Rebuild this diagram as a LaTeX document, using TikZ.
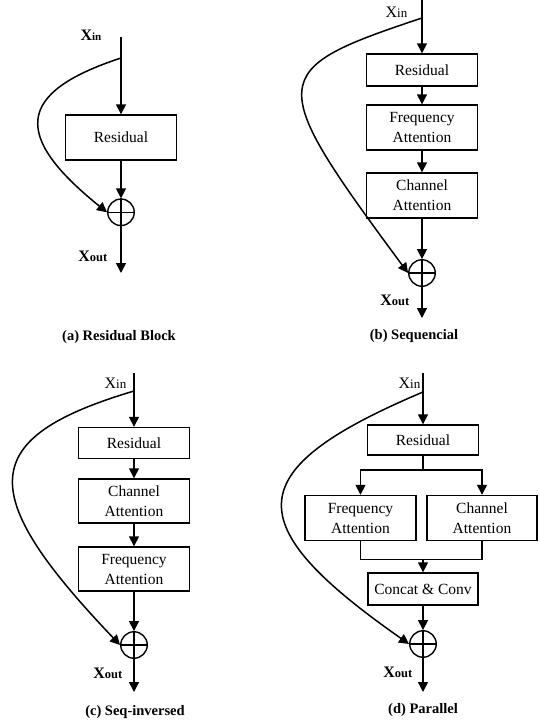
\documentclass[tikz,border=0pt]{standalone}
\usepackage{fontspec}
\setmainfont{Liberation Serif}
\usepackage{tikz}
\usetikzlibrary{arrows.meta}
\newcommand{\xsub}[1]{{\fontsize{13}{13}\selectfont #1}}
\newcommand{\xbsub}[1]{{\bfseries\fontsize{12.5}{12.5}\selectfont #1}}
\tikzset{
    >={Triangle[length=10pt, width=10pt]},
    blk/.style={draw=black, line width=1.4pt, minimum width=111pt, inner sep=0pt, align=center, font=\fontsize{15.5}{20}\selectfont},
    sumnode/.style={shape=circle, draw=black, line width=1.4pt, minimum size=26.5pt, inner sep=0pt},
    xlbl/.style={anchor=east, inner sep=0pt, font=\fontsize{16}{16}\selectfont},
    captxt/.style={inner sep=0pt, font=\bfseries\fontsize{14.5}{14.5}\selectfont}}

\begin{document}
\begin{tikzpicture}[x=1pt, y=-1pt, line width=1.5pt]
                    \useasboundingbox (0,0) rectangle (540,724);

                    % (a) Residual Block
                    \coordinate (a0) at (121,37);
                    \coordinate (a1) at (121,58);
                    \node[blk, minimum height=45pt] (ares) at (121,137.5) {Residual};
                    \node[sumnode] (asum) at (121,212.3) {};
                    \coordinate (a9) at (121,273);
                    \node[xlbl] (ain) at (102,35) {\textbf{X}{\bfseries\fontsize{11}{11}\selectfont in}};
                    \node[xlbl] (aout) at (108,256) {\textbf{X}\xbsub{out}};
                    \node[captxt] (acap) at (119,337) {(a) Residual Block};

                    \draw[->] (a0) -- (ares);
                    \draw[->] (ares) -- (asum);
                    \draw[->] (asum) -- (a9);
                    \draw (asum.north) -- (asum.south) (asum.west) -- (asum.east);
                    \draw[->] (a1) .. controls +(-107,35) and +(-93.4,-75.3) .. (asum.west);

                    % (b) Sequencial
                    \coordinate (b0) at (422,0);
                    \coordinate (b1) at (422,18);
                    \node[blk, minimum height=32pt] (bres) at (422,70) {Residual};
                    \node[blk, minimum height=45pt] (bfre) at (422,127.5) {Frequency\\Attention};
                    \node[blk, minimum height=45pt] (bcha) at (422,195.5) {Channel\\Attention};
                    \node[sumnode] (bsum) at (422,273) {};
                    \coordinate (b9) at (422,318);
                    \node[xlbl] (bin) at (408,12) {X\xsub{in}};
                    \node[xlbl] (bout) at (410,300) {\textbf{X}\xbsub{out}};
                    \node[captxt] (bcap) at (414,336) {(b) Sequencial};

                    \draw[->] (b0) -- (bres);
                    \draw[->] (bres) -- (bfre);
                    \draw[->] (bfre) -- (bcha);
                    \draw[->] (bcha) -- (bsum);
                    \draw[->] (bsum) -- (b9);
                    \draw (bsum.north) -- (bsum.south) (bsum.west) -- (bsum.east);
                    \draw[->] (b1) .. controls +(-156.5,52) and +(-143.5,-194) .. (bsum.west);

                    % (c) Seq-inversed
                    \coordinate (c0) at (134,373);
                    \coordinate (c1) at (134,391);
                    \node[blk, minimum height=31pt] (cres) at (134,443) {Residual};
                    \node[blk, minimum height=44pt] (ccha) at (134,501) {Channel\\Attention};
                    \node[blk, minimum height=44pt] (cfre) at (134,569) {Frequency\\Attention};
                    \node[sumnode] (csum) at (134,645) {};
                    \coordinate (c9) at (134,692);
                    \node[xlbl] (cin) at (127,383) {X\xsub{in}};
                    \node[xlbl] (cout) at (123,673) {\textbf{X}\xbsub{out}};
                    \node[captxt] (ccap) at (135,712) {(c) Seq-inversed};

                    \draw[->] (c0) -- (cres);
                    \draw[->] (cres) -- (ccha);
                    \draw[->] (ccha) -- (cfre);
                    \draw[->] (cfre) -- (csum);
                    \draw[->] (csum) -- (c9);
                    \draw (csum.north) -- (csum.south) (csum.west) -- (csum.east);
                    \draw[->] (c1) .. controls +(-158,47) and +(-145,-152) .. (csum.west);

                    % (d) Parallel
                    \coordinate (d0) at (423,373);
                    \coordinate (d1) at (423,392);
                    \node[blk, minimum height=30pt] (dres) at (423,440) {Residual};
                    \coordinate (dsplit) at (423,470);
                    \node[blk, minimum height=45pt] (dfre) at (360.5,518) {Frequency\\Attention};
                    \node[blk, minimum height=45pt, minimum width=110pt] (dcha) at (482,518) {Channel\\Attention};
                    \coordinate (dmerge) at (423,559.5);
                    \node[blk, minimum height=32pt, minimum width=110pt] (dcat) at (423,589) {Concat \& Conv};
                    \node[sumnode] (dsum) at (423,644) {};
                    \coordinate (d9) at (423,692);
                    \node[xlbl] (din) at (421,383) {X\xsub{in}};
                    \node[xlbl] (dout) at (413,672) {\textbf{X}\xbsub{out}};
                    \node[captxt] (dcap) at (423,710) {(d) Parallel};

                    \draw[->] (d0) -- (dres);
                    \draw (dres) -- (dsplit);
                    \draw[->] (dsplit) -| (dfre);
                    \draw[->] (dsplit) -| (dcha);
                    \draw (dfre) |- (dmerge) -| (dcha);
                    \draw[->] (dmerge) -- (dcat);
                    \draw[->] (dcat) -- (dsum);
                    \draw[->] (dsum) -- (d9);
                    \draw (dsum.north) -- (dsum.south) (dsum.west) -- (dsum.east);
                    \draw[->] (d1) .. controls +(-184.5,78) and +(-171.5,-120) .. (dsum.west);

                \end{tikzpicture}
\end{document}
